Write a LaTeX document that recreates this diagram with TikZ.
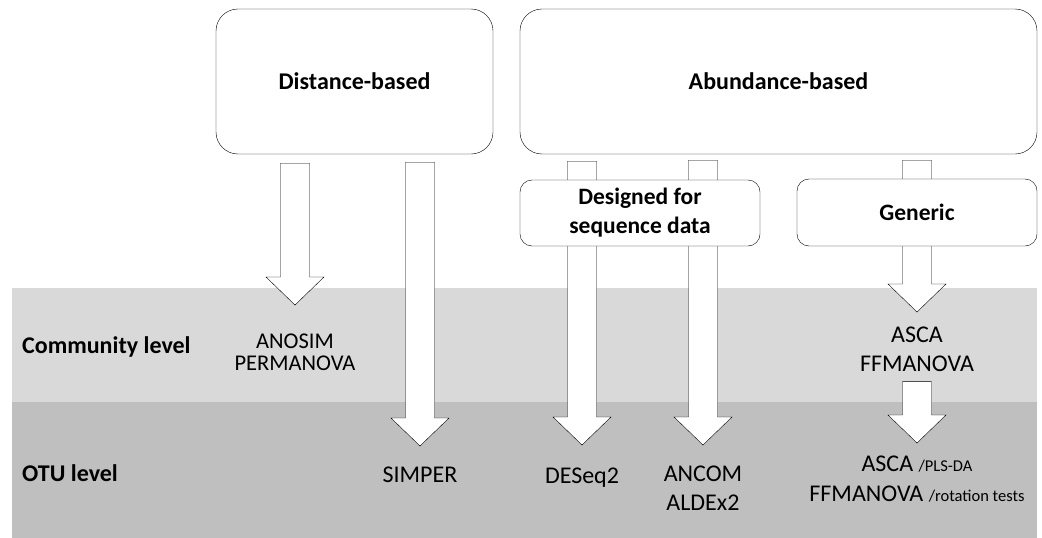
\documentclass[tikz,border=0pt]{standalone}
\usepackage{fontspec}
\setmainfont{Carlito}
\usetikzlibrary{calc}

\definecolor{bandlight}{HTML}{D9D9D9}
\definecolor{banddark}{HTML}{BFBFBF}

\pgfdeclarelayer{bands}
\pgfdeclarelayer{arrows}
\pgfsetlayers{bands,arrows,main}

\tikzset{
  bigbox/.style={draw,fill=white,rounded corners=22pt,align=center,
    font=\bfseries\fontsize{24}{28}\selectfont},
  smallbox/.style={draw,fill=white,rounded corners=12pt,align=center,
    font=\bfseries\fontsize{23.5}{29}\selectfont},
  level/.style={anchor=west,inner sep=0pt,font=\bfseries\fontsize{24}{28}\selectfont},
  method/.style={inner sep=0pt,align=center,font=\fontsize{24}{29}\selectfont},
  fat/.style={draw,fill=white,to path={let \p1=(\tikztostart),\p2=(\tikztotarget) in
    (\x1-14.5pt,\y1) -- (\x1-14.5pt,\y2+28pt) -- (\x1-29pt,\y2+28pt) -- (\x2,\y2)
    -- (\x1+29pt,\y2+28pt) -- (\x1+14.5pt,\y2+28pt) -- (\x1+14.5pt,\y1) -- cycle}}
}

\begin{document}
\begin{tikzpicture}[x=1pt,y=-1pt,line width=1.1pt]
  \useasboundingbox (0,0) rectangle (1042,538);

  % the two levels
  \begin{pgfonlayer}{bands}
    \fill[bandlight] (12,288) rectangle (1037,402);
    \fill[banddark] (12,402) rectangle (1037,538);
  \end{pgfonlayer}

  \node[bigbox,minimum width=277pt,minimum height=145pt] (D) at (354.5,81.5) {Distance-based};
  \node[bigbox,minimum width=517pt,minimum height=145pt] (A) at (778.5,81.5) {Abundance-based};
  \node[smallbox,minimum width=240pt,minimum height=66pt] (S) at (640,213) {Designed for\\sequence data};
  \node[smallbox,minimum width=240pt,minimum height=67pt] (G) at (917,212.5) {Generic};

  \node[level] (CL) at (22,347) {Community level};
  \node[level] (OL) at (22,473) {OTU level};

  \node[method,font=\fontsize{22.5}{22}\selectfont] (M1) at (295,352) {ANOSIM\\PERMANOVA};
  \node[method] (M2) at (420,475) {SIMPER};
  \node[method] (M3) at (582,478) {DESeq2};
  \node[method] (M4) at (703,488) {ANCOM\\ALDEx2};
  \node[method] (M5) at (917,349) {ASCA\\FFMANOVA};
  \node[method,font=\fontsize{24}{30}\selectfont] (M6) at (917,479)
    {ASCA {\fontsize{16.5}{15}\selectfont /PLS-DA}\\FFMANOVA {\fontsize{16.5}{15}\selectfont /rotation tests}};

  % arrow tips
  \coordinate (t1) at (295,305);
  \coordinate (t2) at (420,446);
  \coordinate (t3) at (582,445);
  \coordinate (t4) at (703,445);
  \coordinate (t5) at (917,312);
  \coordinate (t6) at (917,443);

  % arrow tails
  \coordinate (s1) at ($(D.south -| t1)+(0,9)$);
  \coordinate (s2) at ($(D.south -| t2)+(0,8)$);
  \coordinate (s3) at ($(A.south -| t3)+(0,7)$);
  \coordinate (s4) at ($(A.south -| t4)+(0,6)$);
  \coordinate (s5) at ($(A.south -| t5)+(0,6)$);
  \coordinate (s6) at ($(M5.south -| t6)+(0,10)$);

  \begin{pgfonlayer}{arrows}
    \draw[fat] (s1) to (t1);
    \draw[fat] (s2) to (t2);
    \draw[fat] (s3) to (t3);
    \draw[fat] (s4) to (t4);
    \draw[fat] (s5) to (t5);
    \draw[fat] (s6) to (t6);
  \end{pgfonlayer}
\end{tikzpicture}
\end{document}
